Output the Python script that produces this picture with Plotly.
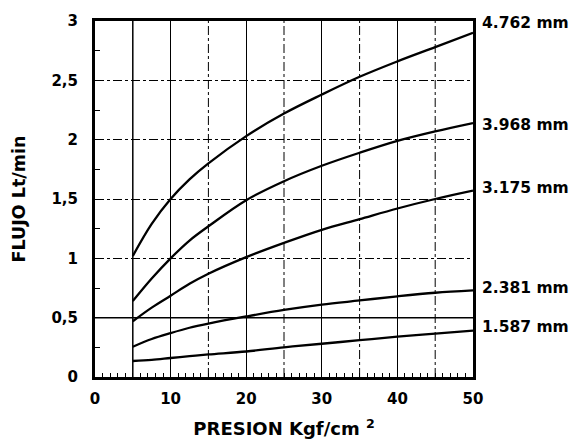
import plotly.graph_objects as go

presion = [5, 7.5, 10, 12.5, 15, 20, 25, 30, 35, 40, 45, 50]
diametros = ["4.762 mm", "3.968 mm", "3.175 mm", "2.381 mm", "1.587 mm"]
flujo = {
    "4.762 mm": [1.02, 1.29, 1.50, 1.665, 1.80, 2.03, 2.22, 2.38, 2.53, 2.66, 2.78, 2.90],
    "3.968 mm": [0.64, 0.83, 1.00, 1.15, 1.27, 1.49, 1.65, 1.78, 1.89, 1.99, 2.07, 2.14],
    "3.175 mm": [0.47, 0.585, 0.685, 0.785, 0.87, 1.01, 1.13, 1.24, 1.33, 1.42, 1.50, 1.57],
    "2.381 mm": [0.255, 0.32, 0.37, 0.415, 0.45, 0.51, 0.565, 0.61, 0.645, 0.68, 0.71, 0.73],
    "1.587 mm": [0.135, 0.145, 0.16, 0.175, 0.19, 0.215, 0.25, 0.28, 0.31, 0.34, 0.365, 0.39],
}
etiqueta_y = [2.98, 2.12, 1.59, 0.75, 0.42]
grid_x_punteada = [15, 25, 35, 45]

FONT = "DejaVu Sans"

fig = go.Figure()
for d in diametros:
    fig.add_trace(go.Scatter(x=presion, y=flujo[d], mode="lines",
                             line=dict(color="black", width=2.3, shape="spline", smoothing=1.0),
                             showlegend=False, hoverinfo="skip"))

for d, yy in zip(diametros, etiqueta_y):
    fig.add_annotation(x=50, y=yy, xref="x", yref="y", text="<b>%s</b>" % d,
                       showarrow=False, xanchor="left", yanchor="middle", xshift=7,
                       font=dict(family=FONT, size=15.5, color="black"))

# printed grid: solid at x=5 and y=0.5, dash-dot at the half decades
fig.add_shape(type="line", x0=5, x1=5, y0=0, y1=3, xref="x", yref="y",
              line=dict(color="black", width=1.5), layer="below")
fig.add_shape(type="line", x0=0, x1=50, y0=0.5, y1=0.5, xref="x", yref="y",
              line=dict(color="black", width=1.5), layer="below")
for gx in grid_x_punteada:
    fig.add_shape(type="line", x0=gx, x1=gx, y0=0, y1=3, xref="x", yref="y",
                  line=dict(color="black", width=1, dash="dashdot"), layer="below")

fig.update_layout(
    width=580, height=442,
    margin=dict(l=95, r=107, t=21, b=65),
    paper_bgcolor="white", plot_bgcolor="white",
    separators=",.",
    font=dict(family=FONT, size=15, color="black"),
)
fig.update_xaxes(
    range=[0, 50], dtick=10, tick0=0, automargin=False,
    showline=True, linecolor="black", linewidth=3, mirror=True,
    showgrid=True, gridcolor="black", gridwidth=1.2,
    ticks="", ticklabelstandoff=6,
    tickfont=dict(family=FONT, size=15, color="black", weight="bold"),
    minor=dict(dtick=1, showgrid=False, ticks="inside", ticklen=4, tickwidth=1, tickcolor="black"),
    title=dict(text="<b>PRESION Kgf/cm <sup>2</sup></b>", standoff=16,
               font=dict(family=FONT, size=18, color="black")),
    zeroline=False,
)
fig.update_yaxes(
    range=[0, 3], dtick=0.5, tick0=0, automargin=False,
    showline=True, linecolor="black", linewidth=3, mirror=True,
    showgrid=True, gridcolor="black", gridwidth=1, griddash="dashdot",
    ticks="", ticklabelstandoff=11,
    tickfont=dict(family=FONT, size=15, color="black", weight="bold"),
    minor=dict(dtick=0.25, showgrid=False, ticks="inside", ticklen=5, tickcolor="black"),
    title=dict(text="<b>FLUJO Lt/min</b>", standoff=22,
               font=dict(family=FONT, size=17.5, color="black")),
    zeroline=False,
)

fig.write_html("out.html", config={"displayModeBar": False},
               post_script="document.body.style.margin='0';")
